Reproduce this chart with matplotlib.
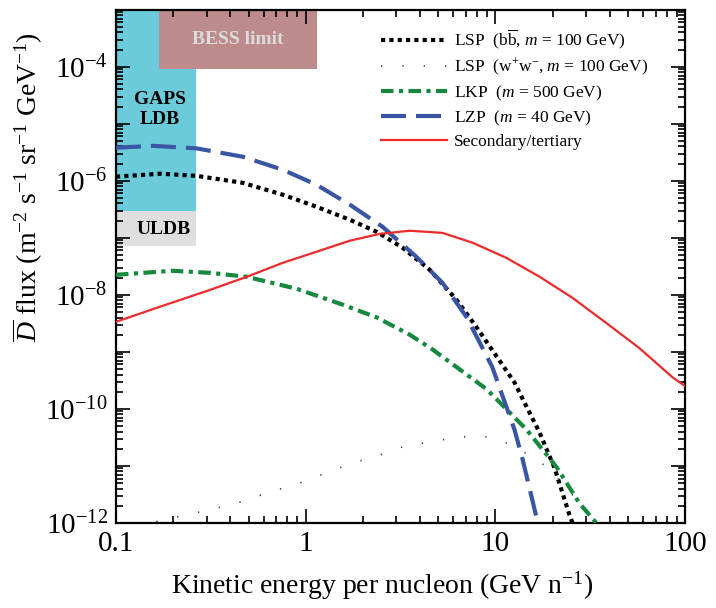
import numpy as np
import matplotlib
matplotlib.use('Agg')
import matplotlib.pyplot as plt
import matplotlib.ticker as mticker

plt.rcParams['font.family'] = 'Liberation Serif'
plt.rcParams['mathtext.fontset'] = 'custom'
plt.rcParams['mathtext.rm'] = 'Liberation Serif'
plt.rcParams['mathtext.it'] = 'Liberation Serif:italic'
plt.rcParams['mathtext.bf'] = 'Liberation Serif:bold'

# --- data (GeV/n, flux) ---
e_lsp_bb = [0.1, 0.171, 0.266, 0.466, 0.757, 1.14, 1.71, 2.37, 3.24, 4.5, 6.23, 7.95,
            12.6, 14.2, 17.1, 20.5, 24.5, 26.5]
f_lsp_bb = [1.18e-6, 1.33e-6, 1.22e-6, 9.2e-7, 5.7e-7, 3.5e-7, 2.07e-7, 1.27e-7, 6.7e-8,
            2.75e-8, 8.2e-9, 2.7e-9, 2.9e-10, 1.3e-10, 3.8e-11, 9.1e-12, 1.4e-12, 7e-13]

e_lsp_ww = [0.1, 0.17, 0.24, 0.336, 0.47, 0.65, 0.9, 1.24, 1.73, 2.4, 3.3, 4.7, 6.5, 7.7,
            9.3, 10.9, 12.9, 14.7, 17.0, 20.0, 24.5, 28.4]
f_lsp_ww = [6e-13, 1.1e-12, 1.4e-12, 1.8e-12, 2.4e-12, 3.5e-12, 4.8e-12, 7.2e-12, 1.1e-11, 1.5e-11,
            2.2e-11, 2.7e-11, 3.2e-11, 3.3e-11, 3.2e-11, 2.7e-11, 2.1e-11, 1.6e-11, 1.2e-11,
            7.9e-12, 3.5e-12, 2.2e-12]

e_lkp = [0.1, 0.197, 0.313, 0.489, 0.9, 1.57, 2.37, 3.53, 4.66, 9.0, 14.6, 21.0, 27.7, 34.0]
f_lkp = [2.24e-8, 2.64e-8, 2.43e-8, 2.07e-8, 1.27e-8, 6.7e-9, 4.0e-9, 2.0e-9, 1.1e-9, 2.2e-10,
         4.3e-11, 9.5e-12, 2.2e-12, 1e-12]

e_lzp = [0.1, 0.157, 0.266, 0.466, 0.757, 1.14, 1.71, 2.54, 3.84, 5.26, 7.03, 9.6, 12.6,
         13.9, 16.4, 17.0]
f_lzp = [3.8e-6, 4.1e-6, 3.7e-6, 2.64e-6, 1.56e-6, 8.5e-7, 3.8e-7, 1.56e-7, 4.6e-8, 1.62e-8,
         4.1e-9, 5.5e-10, 4.3e-11, 1.3e-11, 1.3e-12, 7e-13]

e_sec = [0.1, 0.171, 0.313, 0.489, 0.757, 1.14, 1.71, 2.45, 3.53, 5.26, 7.57, 11.4, 17.1,
         25.4, 38.4, 57.2, 85.5, 100]
f_sec = [3.36e-9, 6.2e-9, 1.22e-8, 2.07e-8, 3.64e-8, 5.7e-8, 8.9e-8, 1.17e-7, 1.33e-7,
         1.22e-7, 8.2e-8, 4.46e-8, 2.07e-8, 8.9e-9, 3.2e-9, 1.17e-9, 3.6e-10, 2.5e-10]

# experiment sensitivity regions: (E_min, E_max, flux_min, flux_max)
gaps_ldb = (0.1, 0.264, 2.95e-7, 1e-3)
gaps_uldb = (0.1, 0.264, 7.2e-8, 2.95e-7)
bess_limit = (0.168, 1.14, 9.1e-5, 1e-3)

fig = plt.figure(figsize=(7.16, 6.08), dpi=100)
ax = fig.add_axes([0.162, 0.140, 0.795, 0.844])

for (x0, x1, y0, y1), col in [(gaps_ldb, '#6ccbdb'), (gaps_uldb, '#dfdfdf'), (bess_limit, '#bd8b8b')]:
    ax.fill_between([x0, x1], y0, y1, color=col, lw=0, zorder=1)

ax.text(0.17, 1.8e-5, 'GAPS\nLDB', ha='center', va='center', fontsize=14,
        fontweight='bold', linespacing=1.2, zorder=2)
ax.text(0.178, 1.4e-7, 'ULDB', ha='center', va='center', fontsize=14, fontweight='bold', zorder=2)
ax.text(0.44, 3e-4, 'BESS limit', ha='center', va='center', fontsize=14, fontweight='bold',
        color='#dcdcdc', zorder=2)

ax.plot(e_lsp_bb, f_lsp_bb, color='black', lw=3, linestyle=(0, (1, 1)), zorder=3,
        label=r'LSP  (b$\overline{\mathrm{b}}$, $m$ = 100 GeV)')
ax.plot(e_lsp_ww, f_lsp_ww, color='#444444', lw=1.2, linestyle=(0, (0.8, 12)), zorder=3,
        label=r'LSP  (w$^{+}$w$^{-}$, $m$ = 100 GeV)')
ax.plot(e_lkp, f_lkp, color='#16893f', lw=3, linestyle=(0, (3, 1.3, 1, 1.3)), zorder=3,
        label=r'LKP  ($m$ = 500 GeV)')
ax.plot(e_lzp, f_lzp, color='#3a55a4', lw=3, linestyle=(0, (6, 2.4)), zorder=3,
        label=r'LZP  ($m$ = 40 GeV)')
ax.plot(e_sec, f_sec, color='#ee2a2a', lw=1.6, zorder=3, label='Secondary/tertiary')

ax.set_xscale('log')
ax.set_yscale('log')
ax.set_xlim(0.1, 100)
ax.set_ylim(1e-12, 1e-3)

ax.xaxis.set_major_formatter(mticker.FuncFormatter(lambda v, p: '%g' % v))
ax.yaxis.set_major_locator(mticker.LogLocator(base=10, numticks=20))
ax.yaxis.set_minor_locator(mticker.LogLocator(base=10, subs=np.arange(2, 10), numticks=20))


def ylab(v, p):
    k = int(round(np.log10(v)))
    return r'$10^{%d}$' % k if k % 2 == 0 else ''


ax.yaxis.set_major_formatter(mticker.FuncFormatter(ylab))
ax.yaxis.set_minor_formatter(mticker.NullFormatter())

ax.tick_params(which='both', direction='in', top=True, right=True, width=1.2)
ax.tick_params(which='major', length=10, labelsize=21, pad=6)
ax.tick_params(which='minor', length=5)
for s in ax.spines.values():
    s.set_linewidth(1.6)

ax.set_xlabel(r'Kinetic energy per nucleon (GeV n$^{-1}$)', fontsize=20)
ax.xaxis.set_label_coords(0.467, -0.09)
ax.set_ylabel(r'$\overline{D}$ flux (m$^{-2}$ s$^{-1}$ sr$^{-1}$ GeV$^{-1}$)', fontsize=20)
ax.yaxis.set_label_coords(-0.125, 0.655)

ax.legend(loc='upper left', bbox_to_anchor=(0.465, 0.965), frameon=False, fontsize=12.5,
          handlelength=3.8, handletextpad=0.4, labelspacing=0.33, borderaxespad=0, borderpad=0)

fig.savefig('out.png', dpi=100)
